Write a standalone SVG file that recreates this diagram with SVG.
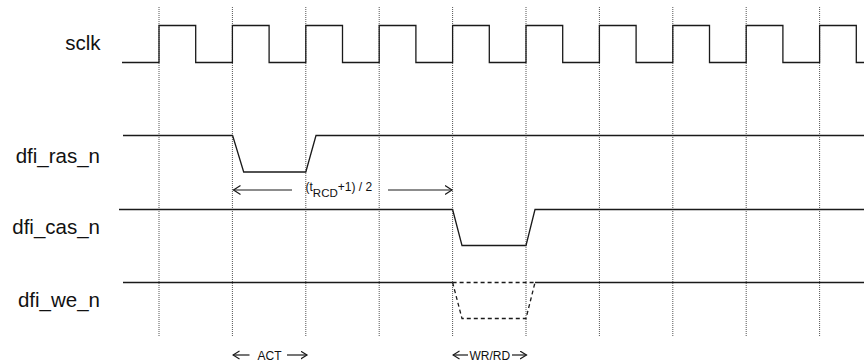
<svg xmlns="http://www.w3.org/2000/svg" width="864" height="364" viewBox="0 0 864 364">
<style>
.lbl{font-family:"Liberation Sans",Arial,sans-serif;font-size:20.5px;fill:#111;text-anchor:end}
.small{font-family:"Liberation Sans",Arial,sans-serif;font-size:12px;fill:#111}
.wave{fill:none;stroke:#1a1a1a;stroke-width:1.3}
.dash{fill:none;stroke:#1a1a1a;stroke-width:1.3;stroke-dasharray:4 3}
.grid{stroke:#555;stroke-width:1;stroke-dasharray:1 1}
.conn{stroke:#1a1a1a;stroke-width:1.2;fill:none}
</style>
<defs>
<marker id="ah" markerUnits="userSpaceOnUse" markerWidth="9" markerHeight="11" refX="7" refY="5" orient="auto">
<path d="M0,0.5 L7,5 L0,9.5" fill="none" stroke="#1a1a1a" stroke-width="1.2"/>
</marker>
<marker id="ahs" markerUnits="userSpaceOnUse" markerWidth="8" markerHeight="10" refX="6.5" refY="4.5" orient="auto">
<path d="M0,0.5 L6.5,4.5 L0,8.5" fill="none" stroke="#1a1a1a" stroke-width="1.2"/>
</marker>
</defs>
<rect width="864" height="364" fill="#fff"/>
<g id="grid">
<line class="grid" x1="159" y1="7" x2="159" y2="336"/>
<line class="grid" x1="232.4" y1="7" x2="232.4" y2="336"/>
<line class="grid" x1="305.8" y1="7" x2="305.8" y2="336"/>
<line class="grid" x1="379.2" y1="7" x2="379.2" y2="336"/>
<line class="grid" x1="452.6" y1="7" x2="452.6" y2="336"/>
<line class="grid" x1="526" y1="7" x2="526" y2="336"/>
<line class="grid" x1="599.4" y1="7" x2="599.4" y2="336"/>
<line class="grid" x1="672.8" y1="7" x2="672.8" y2="336"/>
<line class="grid" x1="746.2" y1="7" x2="746.2" y2="336"/>
<line class="grid" x1="819.6" y1="7" x2="819.6" y2="336"/>
</g>
<g id="sclk">
<text class="lbl" x="100.5" y="49.5">sclk</text>
<path class="wave" d="M122,62.5 H159 V25.5 H195.7 V62.5 H232.4 V25.5 H269.1 V62.5 H305.8 V25.5 H342.5 V62.5 H379.2 V25.5 H415.9 V62.5 H452.6 V25.5 H489.3 V62.5 H526 V25.5 H562.7 V62.5 H599.4 V25.5 H636.1 V62.5 H672.8 V25.5 H709.5 V62.5 H746.2 V25.5 H782.9 V62.5 H819.6 V25.5 H856.3 V62.5 H864"/>
</g>
<g id="dfi_ras_n">
<text class="lbl" x="100" y="162.7">dfi_ras_n</text>
<path class="wave" d="M123,135.5 H232.6 L243.7,172 H305.8 L316,135.5 H864"/>
</g>
<g id="dfi_cas_n">
<text class="lbl" x="100" y="234">dfi_cas_n</text>
<path class="wave" d="M119,209.5 H452.6 L462,245.5 H526 L535,209.5 H864"/>
</g>
<g id="dfi_we_n">
<text class="lbl" x="100" y="306.5">dfi_we_n</text>
<path class="wave" d="M123,282.5 H452.6"/>
<path class="dash" d="M452.6,282.5 H535"/>
<path class="dash" d="M452.6,282.5 L462,318.5 H526 L535,282.5"/>
<path class="wave" d="M535,282.5 H864"/>
</g>
<g id="connectors">
<line class="conn" x1="292" y1="190" x2="233.5" y2="190" marker-end="url(#ah)"/>
<line class="conn" x1="388" y1="190" x2="452" y2="190" marker-end="url(#ah)"/>
<line class="conn" x1="249.5" y1="355" x2="233" y2="355" marker-end="url(#ahs)"/>
<line class="conn" x1="287" y1="355" x2="307" y2="355" marker-end="url(#ahs)"/>
<line class="conn" x1="468" y1="355" x2="453" y2="355" marker-end="url(#ahs)"/>
<line class="conn" x1="512" y1="355" x2="526.5" y2="355" marker-end="url(#ahs)"/>
</g>
<g id="trcd_label">
<text class="small" x="305.5" y="191">(t<tspan dy="6" font-size="11.5px">RCD</tspan><tspan dy="-6">+1) / 2</tspan></text>
</g>
<g id="act_label">
<text class="small" x="257.5" y="359.5">ACT</text>
</g>
<g id="wrrd_label">
<text class="small" x="469.5" y="359.5">WR/RD</text>
</g>
</svg>
